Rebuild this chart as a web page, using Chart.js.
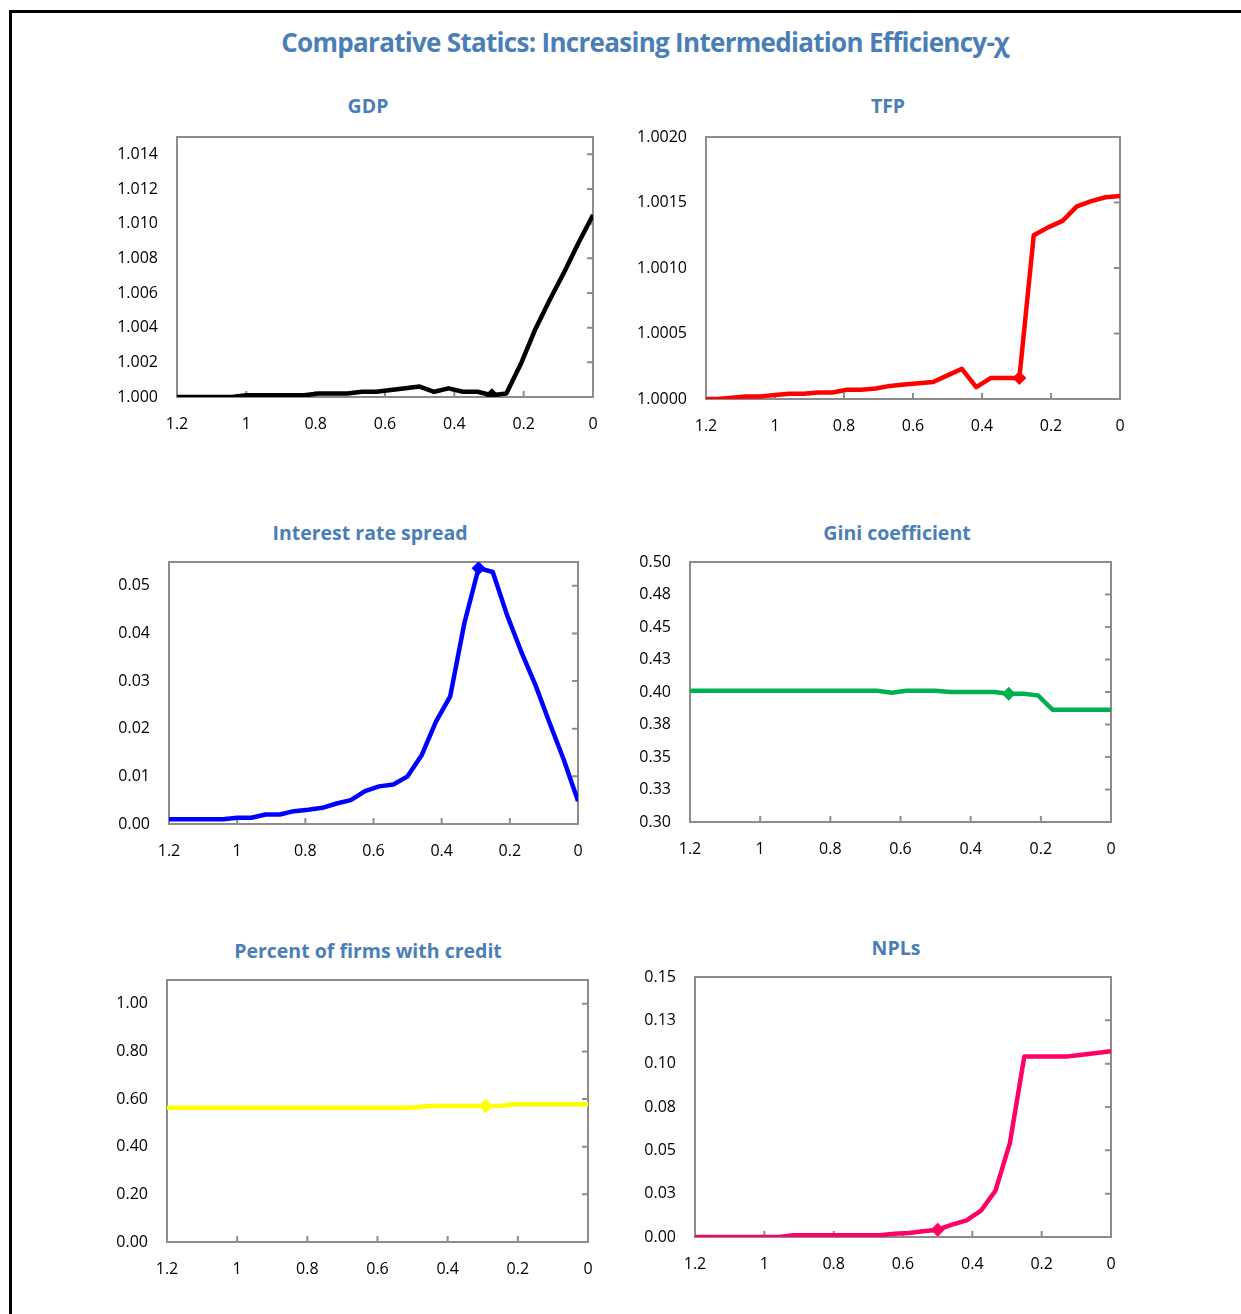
<!DOCTYPE html>
<html>
<head>
<meta charset="utf-8">
<script src="https://cdn.jsdelivr.net/npm/chart.js@4.4.1/dist/chart.umd.min.js"></script>
<style>
  body { margin: 0; background: #fff; }
  #page { position: relative; width: 1241px; height: 1314px; overflow: hidden; background: #fff; }
  #frame { position: absolute; left: 9px; top: 10px; width: 1260px; height: 1330px; border-left: 3px solid #000; border-top: 3px solid #000; }
  .ttl { position: absolute; transform: translate(-50%, -50%); white-space: nowrap; color: #4a7eb6; font-family: "Open Sans", "Noto Sans", sans-serif; font-weight: 700; line-height: 1; }
  #main { font-size: 26px; letter-spacing: -0.7px; }
  .sub { font-size: 19.5px; }
  canvas { position: absolute; }
</style>
</head>
<body>
<div id="page">
  <div id="frame"></div>
  <div id="main" class="ttl" style="left:645px; top:42px;">Comparative Statics: Increasing Intermediation Efficiency-χ</div>
</div>
<script>
// x axis: intermediation cost chi (reversed, 1.2 -> 0)
var chi = [1.2, 1.1667, 1.125, 1.0833, 1.0417, 1.0, 0.9583, 0.9167, 0.875, 0.8333,
           0.7917, 0.75, 0.7083, 0.6667, 0.625, 0.5833, 0.5417, 0.5, 0.4583, 0.4167,
           0.375, 0.3333, 0.2917, 0.25, 0.2083, 0.1667, 0.125, 0.0833, 0.0417, 0];
var xTickVals = [1.2, 1, 0.8, 0.6, 0.4, 0.2, 0];
var xTickLabels = ['1.2', '1', '0.8', '0.6', '0.4', '0.2', '0'];

// series
var gdp = [1.0000, 1.0000, 1.0000, 1.0000, 1.0000, 1.0001, 1.0001, 1.0001, 1.0001, 1.0001,
           1.0002, 1.0002, 1.0002, 1.0003, 1.0003, 1.0004, 1.0005, 1.0006, 1.0003, 1.0005,
           1.0003, 1.0003, 1.0001, 1.0002, 1.0019, 1.0039, 1.0056, 1.0072, 1.0089, 1.0105];
var tfp = [1.00000, 1.00000, 1.00001, 1.00002, 1.00002, 1.00003, 1.00004, 1.00004, 1.00005, 1.00005,
           1.00007, 1.00007, 1.00008, 1.00010, 1.00011, 1.00012, 1.00013, 1.00018, 1.00023, 1.00009,
           1.00016, 1.00016, 1.00016, 1.00125, 1.00131, 1.00136, 1.00147, 1.00151, 1.00154, 1.00155];
var spread = [0.0010, 0.0010, 0.0010, 0.0010, 0.0010, 0.0013, 0.0013, 0.0020, 0.0020, 0.0027,
              0.0030, 0.0034, 0.0043, 0.0050, 0.0069, 0.0079, 0.0083, 0.0100, 0.0145, 0.0215,
              0.0268, 0.0422, 0.0537, 0.0529, 0.0439, 0.0362, 0.0292, 0.0212, 0.0135, 0.0048];
var gini = [0.401, 0.401, 0.401, 0.401, 0.401, 0.401, 0.401, 0.401, 0.401, 0.401,
            0.401, 0.401, 0.401, 0.401, 0.3995, 0.401, 0.401, 0.401, 0.400, 0.400,
            0.400, 0.400, 0.3987, 0.3987, 0.3974, 0.3864, 0.3864, 0.3864, 0.3864, 0.3864];
var credit = [0.564, 0.564, 0.564, 0.564, 0.564, 0.564, 0.564, 0.564, 0.564, 0.564,
              0.564, 0.564, 0.564, 0.564, 0.564, 0.564, 0.564, 0.564, 0.571, 0.571,
              0.571, 0.571, 0.571, 0.571, 0.578, 0.578, 0.578, 0.578, 0.578, 0.578];
var npl = [0, 0, 0, 0, 0, 0, 0, 0.0010, 0.0010, 0.0010,
           0.0010, 0.0010, 0.0010, 0.0010, 0.0019, 0.0023, 0.0033, 0.0042, 0.0071, 0.0096,
           0.0152, 0.0267, 0.0542, 0.1042, 0.1042, 0.1042, 0.1042, 0.1052, 0.1062, 0.1071];

// y ticks
var gdpTicks = [1.000, 1.002, 1.004, 1.006, 1.008, 1.010, 1.012, 1.014];
var gdpLabels = ['1.000', '1.002', '1.004', '1.006', '1.008', '1.010', '1.012', '1.014'];
var tfpTicks = [1.0000, 1.0005, 1.0010, 1.0015, 1.0020];
var tfpLabels = ['1.0000', '1.0005', '1.0010', '1.0015', '1.0020'];
var spreadTicks = [0, 0.01, 0.02, 0.03, 0.04, 0.05];
var spreadLabels = ['0.00', '0.01', '0.02', '0.03', '0.04', '0.05'];
var giniTicks = [0.30, 0.325, 0.35, 0.375, 0.40, 0.425, 0.45, 0.475, 0.50];
var giniLabels = ['0.30', '0.33', '0.35', '0.38', '0.40', '0.43', '0.45', '0.48', '0.50'];
var creditTicks = [0, 0.2, 0.4, 0.6, 0.8, 1.0];
var creditLabels = ['0.00', '0.20', '0.40', '0.60', '0.80', '1.00'];
var nplTicks = [0, 0.025, 0.05, 0.075, 0.10, 0.125, 0.15];
var nplLabels = ['0.00', '0.03', '0.05', '0.08', '0.10', '0.13', '0.15'];

var panels = [
  { title: 'GDP', data: gdp, mark: 22, color: '#000000', ymin: 1.000, ymax: 1.015, ticks: gdpTicks, labels: gdpLabels,
    box: [176.5, 593.3, 136.7, 397.3], tpos: [368, 106] },
  { title: 'TFP', data: tfp, mark: 22, color: '#ff0000', ymin: 1.0000, ymax: 1.0020, ticks: tfpTicks, labels: tfpLabels,
    box: [706, 1120, 137.3, 399], tpos: [888, 106] },
  { title: 'Interest rate spread', data: spread, mark: 22, color: '#0000ff', ymin: 0, ymax: 0.055, ticks: spreadTicks, labels: spreadLabels,
    box: [169, 578.3, 562.3, 824.3], tpos: [370, 533] },
  { title: 'Gini coefficient', data: gini, mark: 22, color: '#00b050', ymin: 0.30, ymax: 0.50, ticks: giniTicks, labels: giniLabels,
    box: [690, 1110.7, 562.3, 822.3], tpos: [897, 533] },
  { title: 'Percent of firms with credit', data: credit, mark: 22, color: '#ffff00', ymin: 0, ymax: 1.1, ticks: creditTicks, labels: creditLabels,
    box: [167.3, 588.3, 980, 1241.7], tpos: [368, 951] },
  { title: 'NPLs', data: npl, mark: 17, color: '#ff0066', ymin: 0, ymax: 0.15, ticks: nplTicks, labels: nplLabels,
    box: [695, 1110.7, 977.3, 1237.3], tpos: [896, 948] }
];

var Y_W = 80, X_H = 45, PAD_T = 20, PAD_R = 24;

// plot-area border and inward tick marks (Excel style)
var plotFrame = {
  id: 'plotFrame',
  beforeDatasetsDraw: function (chart) {
    var ctx = chart.ctx, a = chart.chartArea, sx = chart.scales.x, sy = chart.scales.y;
    ctx.save();
    ctx.strokeStyle = '#8c8c8c';
    ctx.lineWidth = 2;
    ctx.strokeRect(a.left, a.top, a.right - a.left, a.bottom - a.top);
    ctx.beginPath();
    sy.ticks.forEach(function (t) {
      var py = sy.getPixelForValue(t.value);
      ctx.moveTo(a.right - 6, py); ctx.lineTo(a.right, py);
    });
    sx.ticks.forEach(function (t) {
      var px = sx.getPixelForValue(t.value);
      ctx.moveTo(px, a.bottom - 6); ctx.lineTo(px, a.bottom);
    });
    ctx.stroke();
    ctx.restore();
  }
};

var page = document.getElementById('page');
var tickFont = { family: '"Open Sans", "Noto Sans", sans-serif', size: 16 };

panels.forEach(function (p) {
  var t = document.createElement('div');
  t.className = 'ttl sub';
  t.style.left = p.tpos[0] + 'px';
  t.style.top = p.tpos[1] + 'px';
  t.textContent = p.title;
  page.appendChild(t);

  var l = p.box[0], r = p.box[1], top = p.box[2], b = p.box[3];
  var cv = document.createElement('canvas');
  var cl = Math.round(l - Y_W), ct = Math.round(top - PAD_T);
  var cw = Math.round(r + PAD_R) - cl, ch = Math.round(b + X_H) - ct;
  cv.width = cw; cv.height = ch;
  cv.style.left = cl + 'px'; cv.style.top = ct + 'px';
  cv.style.width = cw + 'px'; cv.style.height = ch + 'px';
  page.appendChild(cv);

  var pts = chi.map(function (x, i) { return { x: x, y: p.data[i] }; });

  new Chart(cv, {
    type: 'line',
    data: {
      datasets: [{
        data: pts,
        borderColor: p.color,
        backgroundColor: p.color,
        borderWidth: 4.5,
        borderJoinStyle: 'round',
        fill: false,
        tension: 0,
        pointStyle: 'rectRot',
        pointRadius: function (c) { return c.dataIndex === p.mark ? 7 : 0; },
        pointBorderWidth: 0,
        pointHoverRadius: 0
      }]
    },
    options: {
      responsive: false,
      animation: false,
      events: [],
      layout: { padding: { top: PAD_T, right: PAD_R, left: 0, bottom: 0 } },
      plugins: { legend: { display: false }, tooltip: { enabled: false }, title: { display: false } },
      scales: {
        x: {
          type: 'linear', reverse: true, min: 0, max: 1.2,
          grid: { display: false, drawTicks: false },
          border: { display: false },
          afterBuildTicks: function (s) { s.ticks = xTickVals.map(function (v) { return { value: v }; }); },
          afterFit: function (s) { s.height = X_H; s.paddingLeft = 0; s.paddingRight = 0; },
          ticks: { autoSkip: false, maxRotation: 0, padding: 18, color: '#000', font: tickFont,
                   callback: function (v, i) { return xTickLabels[i]; } }
        },
        y: {
          min: p.ymin, max: p.ymax,
          grid: { display: false, drawTicks: false },
          border: { display: false },
          afterBuildTicks: function (s) { s.ticks = p.ticks.map(function (v) { return { value: v }; }); },
          afterFit: function (s) { s.width = Y_W; s.paddingTop = 0; s.paddingBottom = 0; },
          ticks: { autoSkip: false, padding: 19, color: '#000', font: tickFont,
                   callback: function (v, i) { return p.labels[i]; } }
        }
      }
    },
    plugins: [plotFrame]
  });
});
</script>
</body>
</html>
